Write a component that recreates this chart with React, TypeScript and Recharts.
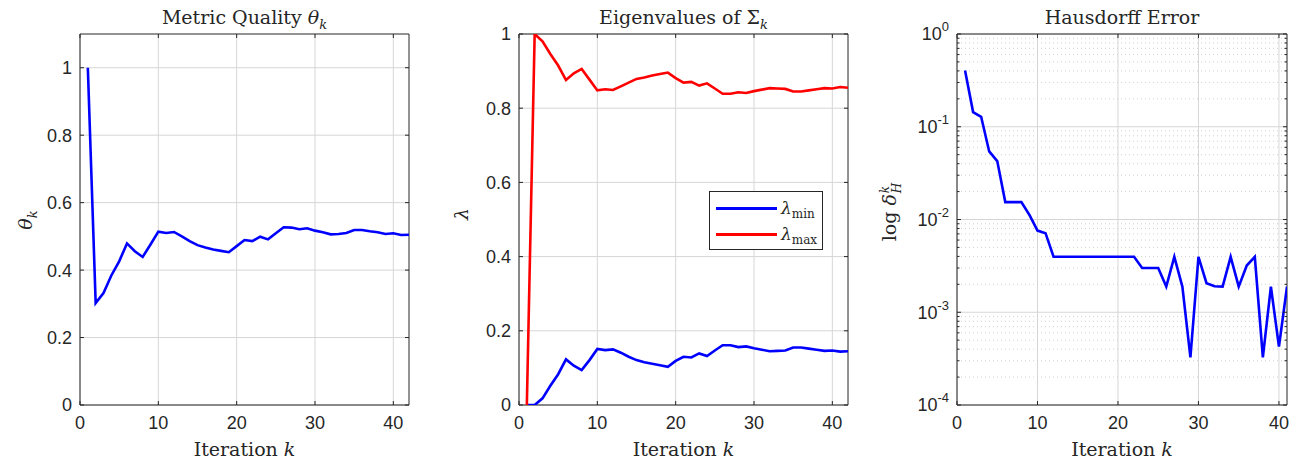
import React from "react";
import { CartesianGrid, Legend, Line, LineChart, ReferenceArea, XAxis, YAxis } from "recharts";

// iteration index k
const iterations = [1, 2, 3, 4, 5, 6, 7, 8, 9, 10, 11, 12, 13, 14, 15, 16, 17, 18, 19, 20, 21, 22, 23, 24, 25, 26, 27, 28, 29, 30, 31, 32, 33, 34, 35, 36, 37, 38, 39, 40, 41, 42];

const thetaK = [
  1.0, 0.302, 0.332, 0.384, 0.426, 0.479, 0.456, 0.439, 0.476, 0.514, 0.51, 0.513, 0.5, 0.486, 0.474, 0.467, 0.461, 0.457, 0.453, 0.471, 0.489,
  0.486, 0.499, 0.491, 0.509, 0.527, 0.526, 0.521, 0.524, 0.517, 0.512, 0.506, 0.507, 0.51, 0.519, 0.519, 0.515, 0.512, 0.507, 0.509, 0.504, 0.505,
];

const lambdaMin = [
  0, 0, 0.018, 0.052, 0.083, 0.123, 0.106, 0.094, 0.121, 0.151, 0.148, 0.15, 0.141, 0.13, 0.121, 0.115, 0.111, 0.107, 0.103, 0.119, 0.13,
  0.128, 0.139, 0.132, 0.147, 0.161, 0.161, 0.156, 0.158, 0.153, 0.149, 0.145, 0.146, 0.147, 0.155, 0.155, 0.152, 0.149, 0.146, 0.147, 0.144, 0.145,
];

const lambdaMax = [
  0, 1.0, 0.98, 0.946, 0.915, 0.876, 0.894, 0.906, 0.877, 0.848, 0.851, 0.849, 0.859, 0.869, 0.879, 0.883, 0.888, 0.892, 0.896, 0.881, 0.869,
  0.871, 0.861, 0.867, 0.853, 0.839, 0.839, 0.843, 0.841, 0.846, 0.85, 0.854, 0.853, 0.852, 0.845, 0.845, 0.848, 0.851, 0.854, 0.853, 0.857, 0.855,
];

// k = 1..41
const hausdorffError = [
  0.405, 0.144, 0.128, 0.0542, 0.0426, 0.0154, 0.0154, 0.0154, 0.0112, 0.0076, 0.00712, 0.00396, 0.00396, 0.00396, 0.00396, 0.00396, 0.00396,
  0.00396, 0.00396, 0.00396, 0.00396, 0.00396, 0.003, 0.003, 0.003, 0.00189, 0.00396, 0.00189, 0.000327, 0.00396, 0.00206, 0.00191, 0.00189,
  0.00396, 0.00189, 0.00319, 0.00396, 0.000327, 0.00189, 0.000426, 0.00189,
];

const xTicks = [0, 10, 20, 30, 40];
const linearTicks = [0, 0.2, 0.4, 0.6, 0.8, 1];
const decades = [1e-4, 1e-3, 1e-2, 1e-1, 1];
const minorSteps = [2, 3, 4, 5, 6, 7, 8, 9];

const minorValues = decades.slice(0, -1).flatMap((d) => minorSteps.map((m) => m * d));

const thetaData = iterations.map((k, i) => ({ k, theta: thetaK[i] }));
const lambdaData = iterations.map((k, i) => ({ k, min: lambdaMin[i], max: lambdaMax[i] }));
const errorData = hausdorffError.map((e, i) => ({ k: iterations[i], err: e }));

const INK = "#262626";
const GRID = "#d6d6d6";
const SANS = "'Liberation Sans', Arial, sans-serif";
const SERIF = "'DejaVu Serif', serif";
const TOP = 34;
const BOTTOM = 405;
const AXW = 80;
const H = 458;
const TL = 4;

const xTick = (w: number) => (p: any) => {
  const x = p.x;
  return (
    <g>
      <line x1={x} x2={x} y1={BOTTOM} y2={BOTTOM - TL} stroke={INK} />
      <line x1={x} x2={x} y1={TOP} y2={TOP + TL} stroke={INK} />
      <text x={x} y={BOTTOM + 24} textAnchor="middle" fontSize={18} fill={INK} fontFamily={SANS}>
        {p.payload.value}
      </text>
    </g>
  );
};

const yTick = (w: number) => (p: any) => {
  const y = p.y;
  return (
    <g>
      <line x1={AXW} x2={AXW + TL} y1={y} y2={y} stroke={INK} />
      <line x1={AXW + w - TL} x2={AXW + w} y1={y} y2={y} stroke={INK} />
      <text x={AXW - 8} y={y} dy="0.36em" textAnchor="end" fontSize={18} fill={INK} fontFamily={SANS}>
        {String(p.payload.value)}
      </text>
    </g>
  );
};

const logTick = (w: number) => (p: any) => {
  const y = p.y;
  const v = p.payload.value;
  const e = Math.log10(v);
  const major = Math.abs(e - Math.round(e)) < 1e-6;
  const len = major ? TL : 2.5;
  return (
    <g>
      <line x1={AXW} x2={AXW + len} y1={y} y2={y} stroke={INK} />
      <line x1={AXW + w - len} x2={AXW + w} y1={y} y2={y} stroke={INK} />
      {major && (
        <text x={AXW - 8} y={y} dy="0.36em" textAnchor="end" fontSize={18} fill={INK} fontFamily={SANS}>
          10
          <tspan dy={-9} fontSize={13}>
            {String(Math.round(e))}
          </tspan>
        </text>
      )}
    </g>
  );
};

const LegendBox = () => (
  <div
    style={{
      border: `1px solid ${INK}`,
      background: "#fff",
      width: 112,
      height: 57,
      boxSizing: "content-box",
      fontFamily: SERIF,
      fontSize: 17,
      color: INK,
      position: "relative",
    }}
  >
    {[
      { c: "#0000ff", s: "min", t: 7 },
      { c: "#ff0000", s: "max", t: 33 },
    ].map((r) => (
      <div key={r.s} style={{ position: "absolute", left: 6, top: r.t, display: "flex", alignItems: "center", height: 18 }}>
        <div style={{ width: 61, height: 3, background: r.c }} />
        <span style={{ marginLeft: 4, whiteSpace: "nowrap" }}>
          <i>λ</i>
          <span style={{ fontSize: 12, position: "relative", top: 4 }}>{r.s}</span>
        </span>
      </div>
    ))}
  </div>
);

const label = (cx: number, cy: number, rotate: boolean, content: React.ReactNode, size = 19) => (
  <div
    style={{
      position: "absolute",
      left: cx,
      top: cy,
      transform: `translate(-50%, -50%)${rotate ? " rotate(-90deg)" : ""}`,
      whiteSpace: "nowrap",
      fontFamily: SERIF,
      fontSize: size,
      color: INK,
      lineHeight: 1,
    }}
  >
    {content}
  </div>
);

const sub = (t: string) => <i style={{ fontSize: 13, position: "relative", top: 5 }}>{t}</i>;

export default function App() {
  const w1 = 329;
  const w2 = 329;
  const w3 = 330;
  const l1 = 80;
  const l2 = 519;
  const l3 = 957;
  return (
    <div style={{ position: "absolute", left: 0, top: 0, width: 1294, height: H, background: "#fff", overflow: "hidden" }}>
      <div style={{ position: "absolute", left: l1 - AXW, top: 0 }}>
        <LineChart width={AXW + w1 + 6} height={H} data={thetaData} margin={{ top: TOP, right: 6, bottom: 0, left: 0 }}>
          <CartesianGrid stroke={GRID} horizontalValues={linearTicks} verticalValues={xTicks} />
          <XAxis type="number" dataKey="k" domain={[0, 42]} ticks={xTicks} interval={0} allowDataOverflow height={H - BOTTOM} tickLine={false} axisLine={false} tick={xTick(w1)} />
          <YAxis type="number" domain={[0, 1.1]} ticks={linearTicks} interval={0} allowDataOverflow width={AXW} tickLine={false} axisLine={false} tick={yTick(w1)} />
          <ReferenceArea x1={0} x2={42} y1={0} y2={1.1} fill="none" fillOpacity={0} stroke={INK} strokeWidth={1} />
          <Line type="linear" dataKey="theta" stroke="#0000ff" strokeWidth={2.6} dot={false} isAnimationActive={false} />
        </LineChart>
      </div>

      <div style={{ position: "absolute", left: l2 - AXW, top: 0 }}>
        <LineChart width={AXW + w2 + 6} height={H} data={lambdaData} margin={{ top: TOP, right: 6, bottom: 0, left: 0 }}>
          <CartesianGrid stroke={GRID} horizontalValues={linearTicks} verticalValues={xTicks} />
          <XAxis type="number" dataKey="k" domain={[0, 42]} ticks={xTicks} interval={0} allowDataOverflow height={H - BOTTOM} tickLine={false} axisLine={false} tick={xTick(w2)} />
          <YAxis type="number" domain={[0, 1]} ticks={linearTicks} interval={0} allowDataOverflow width={AXW} tickLine={false} axisLine={false} tick={yTick(w2)} />
          <ReferenceArea x1={0} x2={42} y1={0} y2={1} fill="none" fillOpacity={0} stroke={INK} strokeWidth={1} />
          <Line type="linear" dataKey="min" stroke="#0000ff" strokeWidth={2.6} dot={false} isAnimationActive={false} />
          <Line type="linear" dataKey="max" stroke="#ff0000" strokeWidth={2.6} dot={false} isAnimationActive={false} />
          <Legend layout="vertical" align="center" verticalAlign="middle" content={() => <LegendBox />} wrapperStyle={{ left: 709 - (l2 - AXW), top: 191, width: 114, bottom: "auto", right: "auto" }} />
        </LineChart>
      </div>

      <div style={{ position: "absolute", left: l3 - AXW, top: 0 }}>
        <LineChart width={AXW + w3 + 6} height={H} data={errorData} margin={{ top: TOP, right: 6, bottom: 0, left: 0 }}>
          <CartesianGrid stroke={GRID} horizontalValues={decades} verticalValues={xTicks} />
          <CartesianGrid stroke="#d2d2d2" strokeDasharray="1 3" vertical={false} horizontalValues={minorValues} />
          <XAxis type="number" dataKey="k" domain={[0, 41]} ticks={xTicks} interval={0} allowDataOverflow height={H - BOTTOM} tickLine={false} axisLine={false} tick={xTick(w3)} />
          <YAxis type="number" scale="log" domain={[1e-4, 1]} ticks={[...decades, ...minorValues]} interval={0} allowDataOverflow width={AXW} tickLine={false} axisLine={false} tick={logTick(w3)} />
          <ReferenceArea x1={0} x2={41} y1={1e-4} y2={1} fill="none" fillOpacity={0} stroke={INK} strokeWidth={1} />
          <Line type="linear" dataKey="err" stroke="#0000ff" strokeWidth={2.6} dot={false} isAnimationActive={false} />
        </LineChart>
      </div>

      {label(l1 + w1 / 2, 17, false, <span>Metric Quality <i>θ</i>{sub("k")}</span>)}
      {label(l2 + w2 / 2, 17, false, <span>Eigenvalues of Σ{sub("k")}</span>)}
      {label(l3 + w3 / 2, 17, false, <span>Hausdorff Error</span>)}

      {[l1 + w1 / 2, l2 + w2 / 2, l3 + w3 / 2].map((c) => (
        <React.Fragment key={c}>{label(c, 449, false, <span>Iteration <i>k</i></span>)}</React.Fragment>
      ))}

      {label(25, 220, true, <span><i>θ</i>{sub("k")}</span>)}
      {label(461, 214, true, <i>λ</i>)}
      {label(891, 212, true, (
        <span>
          log <i>δ</i>
          <span style={{ display: "inline-flex", flexDirection: "column", verticalAlign: "middle", fontSize: 12, lineHeight: 1, marginLeft: 1 }}>
            <i>k</i>
            <i>H</i>
          </span>
        </span>
      ))}
    </div>
  );
}
